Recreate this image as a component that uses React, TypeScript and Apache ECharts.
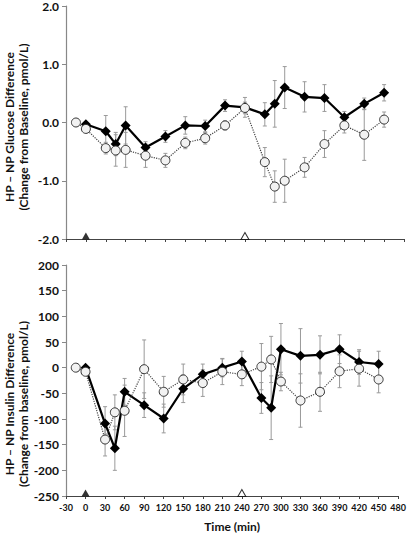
import React, { useEffect, useRef } from "react";
import * as echarts from "echarts";

const timesA = [0, 30, 45, 60, 90, 120, 150, 180, 210, 240, 270, 285, 300, 330, 360, 390, 420, 450];
const timesB = [-15, 0, 30, 45, 60, 90, 120, 150, 180, 210, 240, 270, 285, 300, 330, 360, 390, 420, 450];

const glucoseA = [-0.03, -0.15, -0.37, -0.05, -0.43, -0.24, -0.05, -0.06, 0.29, 0.26, 0.14, 0.32, 0.6, 0.44, 0.42, 0.09, 0.32, 0.51];
const glucoseAErr = [0.02, 0.27, 0.2, 0.32, 0.1, 0.1, 0.15, 0.1, 0.1, 0.17, 0.2, 0.4, 0.36, 0.26, 0.23, 0.1, 0.1, 0.14];
const glucoseB = [0, -0.11, -0.44, -0.48, -0.47, -0.57, -0.65, -0.35, -0.27, -0.05, 0.25, -0.68, -1.1, -1.0, -0.77, -0.37, -0.05, -0.21, 0.05];
const glucoseBErr = [0, 0.03, 0.1, 0.27, 0.3, 0.2, 0.12, 0.1, 0.1, 0.08, 0.1, 0.25, 0.27, 0.37, 0.17, 0.23, 0.13, 0.44, 0.13];

const insulinA = [0, -109, -157, -47, -73, -99, -41, -13, 0, 12, -59, -78, 36, 23, 25, 36, 11, 7];
const insulinAErr = [3, 33, 43, 26, 24, 28, 27, 20, 18, 20, 30, 62, 50, 53, 37, 28, 24, 25];
const insulinB = [0, -8, -140, -87, -84, -3, -47, -23, -30, -8, -13, 2, 16, -27, -64, -47, -7, -2, -23];
const insulinBErr = [0, 5, 32, 34, 50, 57, 30, 30, 26, 25, 22, 45, 45, 18, 52, 38, 32, 34, 26];

const glucoseTicks = { min: -2, max: 2, interval: 1 };
const insulinTicks = { min: -250, max: 200, interval: 50 };
const timeTicks = { min: -30, max: 480, interval: 30 };
const markerTimes = [0, 240];

const FONT = "Lato";

function zip(xs: number[], ys: number[], es?: number[]) {
  return xs.map((x, i) => (es ? [x, ys[i], es[i]] : [x, ys[i]]));
}

function errorSeries(idx: number, data: number[][]) {
  return {
    type: "custom",
    xAxisIndex: idx,
    yAxisIndex: idx,
    z: 1,
    silent: true,
    data,
    renderItem: (params: any, api: any) => {
      const x = api.value(0);
      const y = api.value(1);
      const e = api.value(2);
      const top = api.coord([x, y + e]);
      const bot = api.coord([x, y - e]);
      const w = 2;
      const style = { stroke: "#9a9a9a", lineWidth: 1 };
      return {
        type: "group",
        children: [
          { type: "line", shape: { x1: top[0], y1: top[1], x2: bot[0], y2: bot[1] }, style },
          { type: "line", shape: { x1: top[0] - w, y1: top[1], x2: top[0] + w, y2: top[1] }, style },
          { type: "line", shape: { x1: bot[0] - w, y1: bot[1], x2: bot[0] + w, y2: bot[1] }, style },
        ],
      };
    },
  };
}

function openSeries(idx: number, data: number[][]) {
  return {
    type: "line",
    xAxisIndex: idx,
    yAxisIndex: idx,
    z: 3,
    data,
    symbol: "circle",
    symbolSize: 9,
    lineStyle: { color: "#444", width: 1.2, type: "dotted" },
    itemStyle: { color: "#f2f2f2", borderColor: "#333", borderWidth: 1 },
  };
}

function filledSeries(idx: number, data: number[][]) {
  return {
    type: "line",
    xAxisIndex: idx,
    yAxisIndex: idx,
    z: 2,
    data,
    symbol: "diamond",
    symbolSize: 10,
    lineStyle: { color: "#000", width: 2.2 },
    itemStyle: { color: "#000" },
  };
}

function markerSeries(idx: number, yMin: number) {
  return [
    {
      type: "scatter",
      xAxisIndex: idx,
      yAxisIndex: idx,
      z: 4,
      data: [[markerTimes[0], yMin]],
      symbol: "triangle",
      symbolSize: [8, 7],
      symbolOffset: [0, -3],
      clip: false,
      itemStyle: { color: "#000" },
    },
    {
      type: "scatter",
      xAxisIndex: idx,
      yAxisIndex: idx,
      z: 4,
      data: [[markerTimes[1], yMin]],
      symbol: "triangle",
      symbolSize: [8, 7],
      symbolOffset: [0, -3],
      clip: false,
      itemStyle: { color: "#fff", borderColor: "#000", borderWidth: 1 },
    },
  ];
}

export default function App() {
  const ref = useRef<HTMLDivElement>(null);
  useEffect(() => {
    if (!ref.current) return;
    const chart = echarts.init(ref.current, null, { renderer: "svg" });
    const xAxisBase = {
      type: "value",
      min: timeTicks.min,
      max: timeTicks.max,
      interval: timeTicks.interval,
      splitLine: { show: false },
      axisLine: { onZero: false, lineStyle: { color: "#444", width: 1 } },
      axisTick: { show: true, length: 3, lineStyle: { color: "#444" } },
    };
    const yAxisBase = {
      type: "value",
      splitLine: { show: false },
      axisLine: { show: true, onZero: false, lineStyle: { color: "#888", width: 1.2 } },
      axisTick: { show: true, length: 4, lineStyle: { color: "#888" } },
      axisLabel: { fontFamily: FONT, fontWeight: "bold", fontSize: 12, color: "#111", margin: 7 },
    };
    chart.setOption({
      animation: false,
      grid: [
        { left: 66, top: 6, width: 338, height: 233 },
        { left: 66, top: 265, width: 338, height: 232 },
      ],
      xAxis: [
        { ...xAxisBase, gridIndex: 0, axisLabel: { show: false } },
        {
          ...xAxisBase,
          gridIndex: 1,
          axisLabel: { fontFamily: FONT, fontWeight: "bold", fontSize: 9, color: "#111", margin: 7 },
          name: "Time (min)",
          nameLocation: "middle",
          nameGap: 24,
          nameTextStyle: { fontFamily: FONT, fontWeight: "bold", fontSize: 12, color: "#111" },
        },
      ],
      yAxis: [
        {
          ...yAxisBase,
          gridIndex: 0,
          min: glucoseTicks.min,
          max: glucoseTicks.max,
          interval: glucoseTicks.interval,
          axisLabel: { ...yAxisBase.axisLabel, formatter: (v: number) => v.toFixed(1) },
        },
        {
          ...yAxisBase,
          gridIndex: 1,
          min: insulinTicks.min,
          max: insulinTicks.max,
          interval: insulinTicks.interval,
        },
      ],
      graphic: [
        {
          type: "text",
          x: 16,
          y: 127,
          rotation: Math.PI / 2,
          style: {
            text: "HP – NP Glucose Difference\n(Change from Baseline, pmol/L)",
            fontFamily: FONT,
            fontWeight: "bold",
            fontSize: 12,
            lineHeight: 14,
            fill: "#111",
            align: "center",
            verticalAlign: "middle",
          },
        },
        {
          type: "text",
          x: 16,
          y: 404,
          rotation: Math.PI / 2,
          style: {
            text: "HP – NP Insulin Difference\n(Change from baseline, pmol/L)",
            fontFamily: FONT,
            fontWeight: "bold",
            fontSize: 12,
            lineHeight: 14,
            fill: "#111",
            align: "center",
            verticalAlign: "middle",
          },
        },
      ],
      series: [
        errorSeries(0, zip(timesB, glucoseB, glucoseBErr)),
        errorSeries(0, zip(timesA, glucoseA, glucoseAErr)),
        filledSeries(0, zip(timesA, glucoseA)),
        openSeries(0, zip(timesB, glucoseB)),
        ...markerSeries(0, glucoseTicks.min),
        errorSeries(1, zip(timesB, insulinB, insulinBErr)),
        errorSeries(1, zip(timesA, insulinA, insulinAErr)),
        filledSeries(1, zip(timesA, insulinA)),
        openSeries(1, zip(timesB, insulinB)),
        ...markerSeries(1, insulinTicks.min),
      ],
    });
    return () => chart.dispose();
  }, []);
  return <div ref={ref} style={{ width: 409, height: 533, position: "absolute", left: 0, top: 0, background: "#fff" }} />;
}
